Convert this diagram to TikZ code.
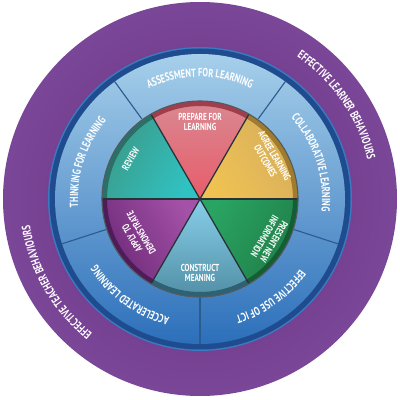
\documentclass[tikz,border=0pt]{standalone}
\usepackage{fontspec}
\newfontfamily\wf{PT Sans}[FakeStretch=0.72]
\usetikzlibrary{decorations.text}
\definecolor{pinner}{HTML}{8452A4}
\definecolor{pm}{HTML}{68307F}
\definecolor{pm2}{HTML}{62297A}
\definecolor{pm3}{HTML}{56206C}
\definecolor{pedge}{HTML}{3A1248}
\definecolor{bdark}{HTML}{1F4C8E}
\definecolor{bedge}{HTML}{3A7AC0}
\definecolor{btop}{HTML}{A6CFEA}
\definecolor{bbot}{HTML}{2C6FBA}
\definecolor{bline}{HTML}{2B5C8E}
% sectors
\definecolor{redin}{HTML}{E85C6A}\definecolor{redout}{HTML}{D88A93}\definecolor{redrim}{HTML}{A23E4C}
\definecolor{yelin}{HTML}{F0C252}\definecolor{yelout}{HTML}{D6AE5E}\definecolor{yelrim}{HTML}{A07C2C}
\definecolor{grnin}{HTML}{2AA462}\definecolor{grnout}{HTML}{1F7E48}\definecolor{grnrim}{HTML}{155E34}
\definecolor{lbin}{HTML}{88CFEA}\definecolor{lbout}{HTML}{4E8CA2}\definecolor{lbrim}{HTML}{2E6272}
\definecolor{puin}{HTML}{A452A8}\definecolor{puout}{HTML}{6E2A78}\definecolor{purim}{HTML}{4E1C58}
\definecolor{tein}{HTML}{30C2C2}\definecolor{teout}{HTML}{3C9A88}\definecolor{terim}{HTML}{2A7068}
\definecolor{divc}{HTML}{263238}
\pgfdeclareradialshading{purplering}{\pgfpoint{0bp}{0bp}}{color(0bp)=(pm); color(38.3bp)=(pinner); color(39.4bp)=(pm); color(45bp)=(pm2); color(48.6bp)=(pm3); color(50bp)=(pedge)}
\tikzset{
  wtext/.style={text=white, font=\wf\bfseries\fontsize{7.2}{7.6}\selectfont, align=center, inner sep=0pt},
  divline/.style={draw=divc, line width=0.9pt},
  ringline/.style={draw=bline, line width=0.8pt},
}
\newcommand{\arctext}[4]{% angle, radius, size, text
  \path[decorate, decoration={text along path, text align=center, text color=white,
    text={|\wf\bfseries\fontsize{#3}{#3}\selectfont|#4}}]
    ({#1+70}:#2) arc[start angle={#1+70}, end angle={#1-70}, radius=#2];}
\newcommand{\sector}[6]{% from, to, inner, outer, rim, mid angle
  \shade[top color=#4, bottom color=#3, shading angle={#6-90}]
    (0,0) -- (#1:98) arc[start angle=#1, end angle=#2, radius=98] -- cycle;
  \draw[line width=3.6pt, #5] (#1:95.5) arc[start angle=#1, end angle=#2, radius=95.5];}
\begin{document}
\begin{tikzpicture}[x=0.025cm,y=0.025cm]
\useasboundingbox (-200,-201) rectangle (200,199);
\fill[white] (-200,-201) rectangle (200,199);
% outer purple ring
\shade[shading=purplering] (0,0) circle (197);
% blue ring
\fill[bedge] (0,0) circle (152);
\fill[bdark] (0,0) circle (150.5);
\shade[top color=btop, bottom color=bbot] (0,0) circle (145);
\foreach \a in {54,126,198,270,342}
  \draw[ringline] (\a:99) -- (\a:145);
% wheel sectors
\sector{60}{120}{redin}{redout}{redrim}{90}
\sector{0}{60}{yelin}{yelout}{yelrim}{30}
\sector{-60}{0}{grnin}{grnout}{grnrim}{-30}
\sector{240}{300}{lbin}{lbout}{lbrim}{270}
\sector{180}{240}{puin}{puout}{purim}{210}
\sector{120}{180}{tein}{teout}{terim}{150}
\foreach \a in {0,60,...,300}
  \draw[divline] (0,0) -- (\a:98);
\draw[draw=divc!80, line width=0.8pt] (0,0) circle (98);
% inner texts
\node[wtext] (prep) at (90:77) {PREPARE FOR\\LEARNING};
\node[wtext, rotate=-60] (agree) at (30:81) {AGREE LEARNING\\OUTCOMES};
\node[wtext, rotate=-120] (pres) at (-30:80) {PRESENT NEW\\INFORMATION};
\node[wtext] (cons) at (-90:74) {CONSTRUCT\\MEANING};
\node[wtext, rotate=120] (apply) at (210:73) {APPLY TO\\DEMONSTRATE};
\node[wtext, rotate=60] (rev) at (150:80) {REVIEW};
% blue ring texts
\arctext{90}{122}{8.3}{ASSESSMENT FOR LEARNING}
\arctext{18}{122}{8.3}{COLLABORATIVE LEARNING}
\arctext{-54}{122}{8.3}{EFFECTIVE USE OF ICT}
\arctext{234}{122}{8.3}{ACCELERATED LEARNING}
\arctext{162}{122}{8.3}{THINKING FOR LEARNING}
% purple ring texts
\arctext{34.5}{172}{8.5}{EFFECTIVE LEARNER BEHAVIOURS}
\arctext{210}{172}{8.5}{EFFECTIVE TEACHER BEHAVIOURS}
\end{tikzpicture}
\end{document}
